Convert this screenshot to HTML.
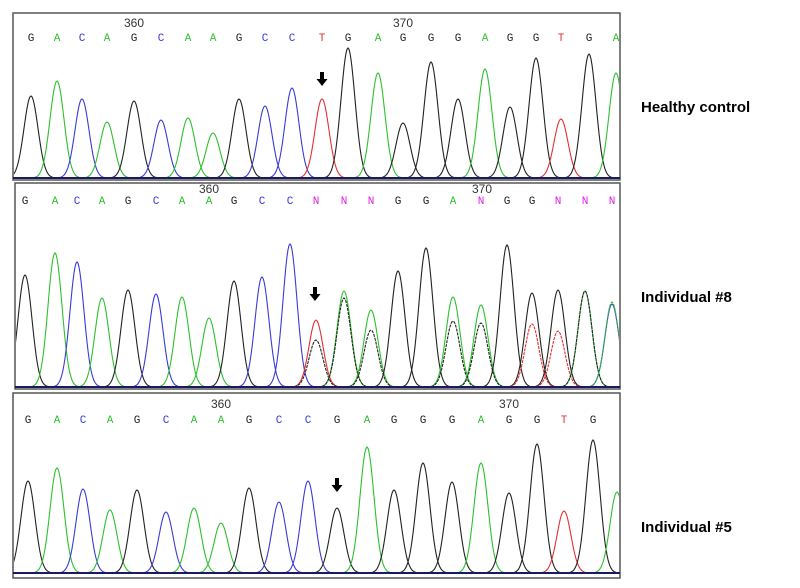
<!DOCTYPE html>
<html><head><meta charset="utf-8"><style>
body{margin:0;background:#fff;width:800px;height:588px;overflow:hidden;font-family:"Liberation Sans",sans-serif}
svg{position:absolute;left:0;top:0}
.lbl{font-weight:bold;font-size:15px;fill:#000}
</style></head><body>
<svg id="chart" width="800" height="588"></svg>
<script>
// Panel 1: healthy control
const bases1=["G","A","C","A","G","C","A","A","G","C","C","T","G","A","G","G","G","A","G","G","T","G","A"];
const pos1=[31,57,82,107,134,161,188,213,239,265,292,322,348,378,403,431,458,485,510,536,561,589,616];
const int1=[82,97,79,56,77,58,60,45,79,72,90,79,130,105,55,116,79,109,71,120,59,124,105];
// Panel 2: individual #8 (primary trace base + secondary trace)
const bases2=["G","A","C","A","G","C","A","A","G","C","C","N","N","N","G","G","A","N","G","G","N","N","N"];
const trace2=["G","A","C","A","G","C","A","A","G","C","C","T","A","A","G","G","A","A","G","G","G","A","C"];
const pos2=[25,55,77,102,128,156,182,209,234,262,290,316,344,371,398,426,453,481,507,532,558,585,612];
const int2=[112,134,125,89,97,93,90,69,106,110,143,67,96,77,116,139,90,82,142,94,97,96,83];
const sec2=[0,0,0,0,0,0,0,0,0,0,0,47,89,57,0,0,66,64,0,63,56,96,85];
const secBase2=["","","","","","","","","","","","G","G","G","","","G","G","","T","T","G","A"];
// Panel 3: individual #5
const bases3=["G","A","C","A","G","C","A","A","G","C","C","G","A","G","G","G","A","G","G","T","G",""];
const trace3=["G","A","C","A","G","C","A","A","G","C","C","G","A","G","G","G","A","G","G","T","G","A"];
const pos3=[28,57,83,110,137,166,194,221,249,279,308,337,367,394,423,452,481,509,537,564,593,617];
const int3=[92,105,84,63,83,61,65,50,85,71,92,65,126,83,110,91,110,80,129,62,133,81];

const colors={G:"#222",A:"#2ec02e",C:"#3a3ad8",T:"#e53030",N:"#e020e0"};
const svg=document.getElementById('chart');
const NS="http://www.w3.org/2000/svg";
function mk(t,a,parent){const e=document.createElementNS(NS,t);for(const k in a)e.setAttribute(k,a[k]);(parent||svg).appendChild(e);return e;}
const defs=mk('defs',{});

function panel(p,idx){
  const box=mk('rect',{x:p.x0,y:p.y0,width:p.x1-p.x0,height:p.y1-p.y0,fill:'#fff',stroke:'#555','stroke-width':1.5});
  
  
  const cp=mk('clipPath',{id:'c'+idx},defs);
  mk('rect',{x:p.x0+1,y:p.y0+1,width:p.x1-p.x0-2,height:p.y1-p.y0-2},cp);
  const g=mk('g',{'clip-path':'url(#c'+idx+')'});
  const yS=v=>p.base-v;
  const peak=(cx,h,col,nm,dash)=>{
    let d='';
    for(let x=cx-26;x<=cx+26;x+=1){const y=yS(h*Math.exp(-Math.pow((x-cx)/7,2)/2));d+=(d?'L':'M')+x+' '+y.toFixed(1);}
    const e=mk('path',{d:d,fill:'none',stroke:col,'stroke-width':1.1},g);
    if(dash)e.setAttribute('stroke-dasharray','3 1');
    
    
  };
  p.bases.forEach((b,i)=>{
    if(b){
      const t=mk('text',{x:p.pos[i],y:p.ly,'font-size':11,'text-anchor':'middle',fill:colors[b],'font-family':'Liberation Mono, monospace'});
      t.textContent=b;
      
      
    }
    const tb=p.trace[i];
    peak(p.pos[i],p.ints[i],colors[tb],'peak-'+tb.toLowerCase(),false);
    if(p.sec&&p.sec[i]>0){peak(p.pos[i],p.sec[i],colors[p.secBase[i]],'secondary-peak',true);}
  });
  mk('line',{x1:p.x0,y1:p.base,x2:p.x1,y2:p.base,stroke:'#1a1a60','stroke-width':2});
  p.ticks.forEach(tk=>{const t=mk('text',{x:tk[0],y:p.ty,'font-size':12,'text-anchor':'middle',fill:'#333'});t.textContent=tk[1];
    
    });
  const ar=mk('path',{d:`M${p.arrow[0]-2} ${p.arrow[1]}h4v7h3.5l-5.5 7l-5.5 -7h3.5z`,fill:'#000'});
  
  
  const l=mk('text',{x:641,y:p.labY,class:'lbl'});l.textContent=p.label;
  
  
}
panel({name:'healthy-control',x0:13,x1:620,y0:13,y1:180,base:178,ly:41,ty:27,bases:bases1,trace:bases1,pos:pos1,ints:int1,ticks:[[134,'360'],[403,'370']],arrow:[322,72],label:'Healthy control',labY:112},1);
panel({name:'individual-8',x0:15,x1:620,y0:183,y1:389,base:387,ly:204,ty:193,bases:bases2,trace:trace2,pos:pos2,ints:int2,sec:sec2,secBase:secBase2,ticks:[[209,'360'],[482,'370']],arrow:[315,287],label:'Individual #8',labY:302},2);
panel({name:'individual-5',x0:13,x1:620,y0:393,y1:578,base:573,ly:423,ty:408,bases:bases3,trace:trace3,pos:pos3,ints:int3,ticks:[[221,'360'],[509,'370']],arrow:[337,478],label:'Individual #5',labY:532},3);
</script>
</body></html>
